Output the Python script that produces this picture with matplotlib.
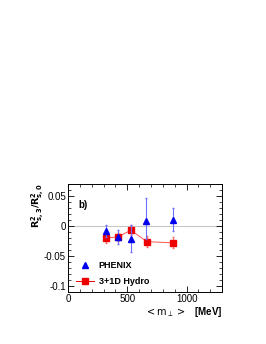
import matplotlib
matplotlib.use("Agg")
import matplotlib.pyplot as plt
from matplotlib.ticker import MultipleLocator

plt.rcParams["font.family"] = ["Liberation Sans", "DejaVu Sans"]

# PHENIX data
phenix_mt = [320, 420, 530, 660, 883]
phenix_r = [-0.008, -0.019, -0.022, 0.008, 0.010]
phenix_err_lo = [0.010, 0.011, 0.022, 0.029, 0.018]
phenix_err_hi = [0.010, 0.013, 0.024, 0.038, 0.020]

# 3+1D hydro
hydro_mt = [320, 420, 530, 665, 885]
hydro_r = [-0.020, -0.018, -0.007, -0.026, -0.028]
hydro_err = [0.008, 0.007, 0.008, 0.009, 0.009]

fig = plt.figure(figsize=(2.66, 3.44), dpi=100)
ax = fig.add_axes([0.256, 0.151, 0.579, 0.314])

ax.axhline(0, color="#c8c8c8", lw=0.8, zorder=1)

ax.errorbar(phenix_mt, phenix_r, yerr=[phenix_err_lo, phenix_err_hi],
            fmt="^", color="#0000ee", ecolor="#6f6fff", ms=3.8, elinewidth=0.8,
            capsize=1.0, lw=0, zorder=4)
ax.errorbar(hydro_mt, hydro_r, yerr=hydro_err, fmt="s", color="#ee0000",
            ecolor="#ff6f6f", ms=3.8, elinewidth=0.8, capsize=1.0, zorder=3)
ax.plot(hydro_mt, hydro_r, "-", color="#ff5555", lw=0.7, zorder=2)
h_leg, = ax.plot([], [], "s-", color="#ee0000", ms=3.8, lw=0.7)
p_leg, = ax.plot([], [], "^", color="#0000ee", ms=3.8, lw=0)

ax.set_xlim(0, 1300)
ax.set_ylim(-0.11, 0.07)
ax.xaxis.set_minor_locator(MultipleLocator(100))
ax.yaxis.set_minor_locator(MultipleLocator(0.01))
ax.set_yticks([-0.1, -0.05, 0, 0.05])
ax.set_yticklabels(["-0.1", "-0.05", "0", "0.05"])
ax.set_xticks([0, 500, 1000])
ax.tick_params(which="both", direction="in", top=True, right=True, labelsize=7, pad=1.5)
ax.tick_params(which="major", length=4, width=0.6)
ax.tick_params(which="minor", length=2, width=0.5)
for s in ax.spines.values():
    s.set_linewidth(0.7)

ax.text(0.07, 0.78, "b)", transform=ax.transAxes, fontsize=7, fontweight="bold")

ax.set_ylabel(r"$\mathbf{R^2_{s,3}/R^2_{s,0}}$", fontsize=6.8, labelpad=1)
ax.yaxis.set_label_coords(-0.145, 0.8)
fig.text(0.835, 0.085, r"$< \mathrm{m}_{\perp} >$   [MeV]", ha="right", fontsize=7,
         fontweight="bold")

ax.legend([p_leg, h_leg], ["PHENIX", "3+1D Hydro"], loc="lower left",
          bbox_to_anchor=(0.0, -0.02), frameon=False, handlelength=2.0,
          handletextpad=0.5, labelspacing=0.8, prop={"weight": "bold", "size": 6.5})

fig.savefig("out.png", dpi=100)
